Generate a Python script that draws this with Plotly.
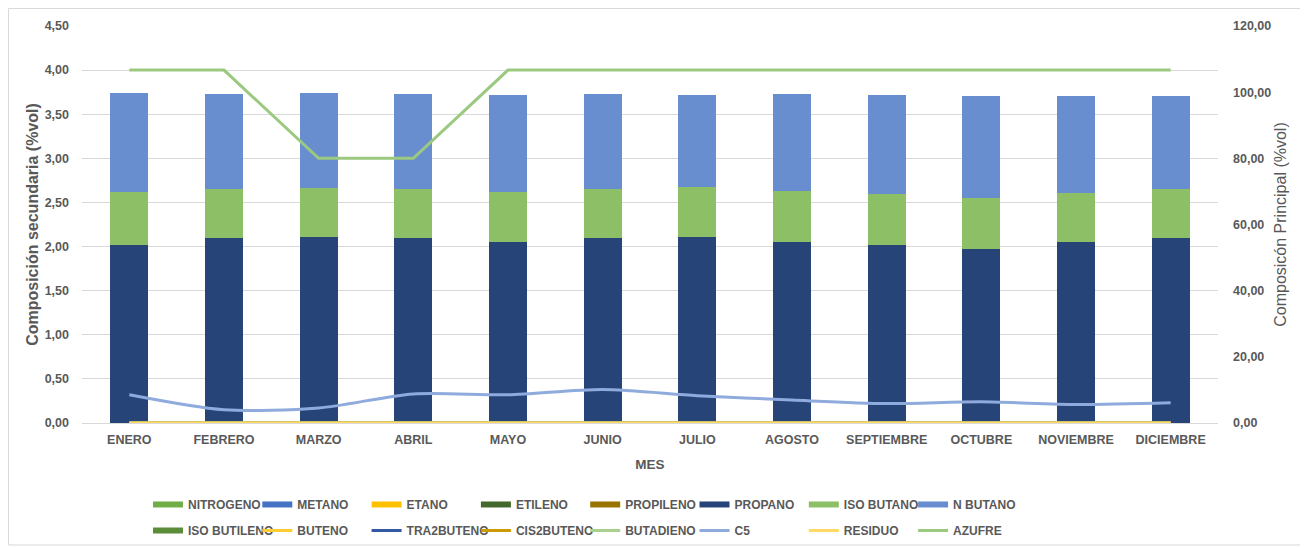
import plotly.graph_objects as go

# === DATOS ===
meses = ["ENERO", "FEBRERO", "MARZO", "ABRIL", "MAYO", "JUNIO", "JULIO",
         "AGOSTO", "SEPTIEMBRE", "OCTUBRE", "NOVIEMBRE", "DICIEMBRE"]

# composición principal (%vol) - eje derecho
nitrogeno = [0.00, 0.00, 0.00, 0.00, 0.00, 0.00, 0.00, 0.00, 0.00, 0.00, 0.00, 0.00]
metano = [0.00, 0.00, 0.00, 0.00, 0.00, 0.00, 0.00, 0.00, 0.00, 0.00, 0.00, 0.00]
etano = [0.00, 0.00, 0.00, 0.00, 0.00, 0.00, 0.00, 0.00, 0.00, 0.00, 0.00, 0.00]
etileno = [0.00, 0.00, 0.00, 0.00, 0.00, 0.00, 0.00, 0.00, 0.00, 0.00, 0.00, 0.00]
propileno = [0.00, 0.00, 0.00, 0.00, 0.00, 0.00, 0.00, 0.00, 0.00, 0.00, 0.00, 0.00]
propano = [53.7, 56.0, 56.2, 56.0, 54.7, 55.8, 56.2, 54.7, 53.9, 52.5, 54.7, 56.0]
iso_butano = [16.2, 14.6, 14.8, 14.8, 15.0, 15.0, 15.2, 15.4, 15.3, 15.6, 14.8, 14.6]
n_butano = [29.8, 28.9, 28.6, 28.5, 29.5, 28.5, 27.8, 29.4, 29.8, 30.6, 29.2, 28.3]
iso_butileno = [0.00, 0.00, 0.00, 0.00, 0.00, 0.00, 0.00, 0.00, 0.00, 0.00, 0.00, 0.00]

# composición secundaria (%vol) - eje izquierdo
buteno = [0.00, 0.00, 0.00, 0.00, 0.00, 0.00, 0.00, 0.00, 0.00, 0.00, 0.00, 0.00]
tra2buteno = [0.00, 0.00, 0.00, 0.00, 0.00, 0.00, 0.00, 0.00, 0.00, 0.00, 0.00, 0.00]
cis2buteno = [0.00, 0.00, 0.00, 0.00, 0.00, 0.00, 0.00, 0.00, 0.00, 0.00, 0.00, 0.00]
butadieno = [0.00, 0.00, 0.00, 0.00, 0.00, 0.00, 0.00, 0.00, 0.00, 0.00, 0.00, 0.00]
c5 = [0.32, 0.15, 0.17, 0.33, 0.32, 0.38, 0.31, 0.26, 0.22, 0.24, 0.21, 0.23]
residuo = [0.00, 0.00, 0.00, 0.00, 0.00, 0.00, 0.00, 0.00, 0.00, 0.00, 0.00, 0.00]
azufre = [4.00, 4.00, 3.00, 3.00, 4.00, 4.00, 4.00, 4.00, 4.00, 4.00, 4.00, 4.00]

GRIS = "#595959"
FUENTE = "Liberation Sans, Arial, sans-serif"

# (nombre, valores, color)
barras = [
    ("NITROGENO", nitrogeno, "#70AD47"),
    ("METANO", metano, "#4472C4"),
    ("ETANO", etano, "#FFC000"),
    ("ETILENO", etileno, "#43682B"),
    ("PROPILENO", propileno, "#997300"),
    ("PROPANO", propano, "#264478"),
    ("ISO BUTANO", iso_butano, "#8CBF66"),
    ("N BUTANO", n_butano, "#698ED0"),
    ("ISO BUTILENO", iso_butileno, "#5B8C3A"),
]
lineas = [
    ("BUTENO", buteno, "#FFCD33", "linear"),
    ("TRA2BUTENO", tra2buteno, "#335AA1", "linear"),
    ("CIS2BUTENO", cis2buteno, "#CC9A06", "linear"),
    ("BUTADIENO", butadieno, "#A9D18E", "linear"),
    ("C5", c5, "#8FAADC", "spline"),
    ("RESIDUO", residuo, "#FFD966", "linear"),
    ("AZUFRE", azufre, "#9BC97F", "linear"),
]

fig = go.Figure()

for i, (nombre, vals, color) in enumerate(barras):
    leg = "legend" if i < 8 else "legend2"
    fig.add_trace(go.Bar(
        x=meses, y=vals, name=nombre, marker_color=color,
        marker_line_width=0, yaxis="y", legendgroup=nombre, showlegend=False,
    ))
    # entrada de leyenda con rectángulo ancho, estilo Excel
    fig.add_trace(go.Scatter(
        x=[None], y=[None], name=nombre, mode="lines", yaxis="y",
        line=dict(color=color, width=6), legendgroup=nombre, legend=leg,
    ))

for nombre, vals, color, forma in lineas:
    fig.add_trace(go.Scatter(
        x=meses, y=vals, name=nombre, mode="lines", yaxis="y2",
        line=dict(color=color, width=3, shape=forma, smoothing=0.8),
        legend="legend2", cliponaxis=False,
    ))

leyenda = dict(orientation="h", xanchor="left", yanchor="top", traceorder="normal",
               xref="paper", yref="container",
               entrywidth=64.3, bgcolor="rgba(0,0,0,0)", itemwidth=30,
               font=dict(family=FUENTE, size=12, color=GRIS, weight="bold"))

# la página añade 8 px de margen: la figura se reduce en 8 px
fig.update_layout(
    width=1300, height=539,
    margin=dict(l=74, r=90, t=18, b=124),
    paper_bgcolor="white", plot_bgcolor="white",
    barmode="stack", bargap=0.6,
    separators=",.",
    font=dict(family=FUENTE, color=GRIS, size=12),
    xaxis=dict(type="category", showgrid=False, showline=False, ticks="", automargin=False,
               ticklabelstandoff=7,
               tickfont=dict(size=12.5, weight="bold", color=GRIS),
               title=dict(text="MES", font=dict(size=13.5, weight="bold", color=GRIS), standoff=14)),
    yaxis=dict(side="right", range=[0, 120], dtick=20, tickformat=".2f", automargin=False,
               showgrid=False, zeroline=False, showline=False, ticks="",
               ticklabelstandoff=14,
               tickfont=dict(size=12.5, weight="bold", color=GRIS),
               title=dict(text="Composicón Principal (%vol)",
                          font=dict(size=16, color=GRIS), standoff=4)),
    yaxis2=dict(side="left", overlaying="y", range=[0, 4.5], dtick=0.5, tickformat=".2f",
                automargin=False,
                showgrid=True, gridcolor="#D9D9D9", gridwidth=1,
                zeroline=True, zerolinecolor="#D9D9D9", zerolinewidth=1,
                showline=False, ticks="", ticklabelstandoff=12,
                tickfont=dict(size=12.5, weight="bold", color=GRIS),
                title=dict(text="Composición secundaria (%vol)",
                           font=dict(size=16, weight="bold", color=GRIS), standoff=2)),
    legend=dict(leyenda, x=0.0581, y=0.1058),
    legend2=dict(leyenda, x=0.0581, y=0.0575),
    showlegend=True,
)

# borde exterior del gráfico
fig.add_shape(type="rect", xref="paper", yref="paper",
              x0=-0.0647, x1=1.0731, y0=-0.3073, y1=1.0441,
              line=dict(color="#D9D9D9", width=1), layer="below")

fig.write_html("out.html")
